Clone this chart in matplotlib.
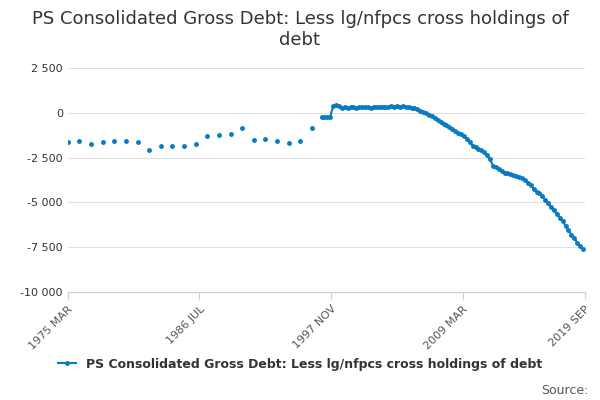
import matplotlib
matplotlib.use("Agg")
import matplotlib.pyplot as plt
import numpy as np

annual_years = list(range(1975, 1997))
annual_values = [-1611,-1555,-1722,-1611,-1555,-1555,-1611,-2055,-1833,-1833,-1833,-1722,
                 -1278,-1222,-1167,-833,-1500,-1444,-1555,-1667,-1555,-833]
q_start = 1997.0
quarterly_values = [
 -250,-250,-250,-220, 380,420,380,280, 330,250,320,300, 280,320,300,310,
 330,290,340,320, 350,330,340,320, 360,330,380,340, 370,330,300,280,
 250,200,120,30, -20,-100,-200,-300, -400,-520,-600,-700, -800,-900,-1000,-1100,
 -1200,-1300,-1450,-1650, -1850,-1900,-2000,-2100, -2200,-2350,-2600,-2950,
 -3050,-3150,-3250,-3350, -3380,-3420,-3480,-3550, -3600,-3650,-3750,-3900,
 -4050,-4250,-4400,-4500, -4650,-4850,-5050,-5250, -5450,-5650,-5850,-6050,
 -6300,-6550,-6800,-7000, -7250,-7450,-7600]
tick_pos = [1975.17, 1986.5, 1997.83, 2009.17, 2019.67]
tick_labels = ["1975 MAR", "1986 JUL", "1997 NOV", "2009 MAR", "2019 SEP"]
series_name = "PS Consolidated Gross Debt: Less lg/nfpcs cross holdings of debt"

color = "#0a7bc1"
qx = q_start + np.arange(len(quarterly_values)) * 0.25
ax_years = np.array(annual_years) + 0.17

fig = plt.figure(figsize=(6, 4), dpi=100)
ax = fig.add_axes([0.113, 0.27, 0.862, 0.56])
ax.plot(ax_years, annual_values, 'o', color=color, ms=2.5, lw=0)
ax.plot(qx, quarterly_values, '-o', color=color, ms=2.5, lw=1.5, label=series_name)
ax.set_xlim(1975.17, 2019.67)
ax.set_ylim(-10000, 2500)
ax.set_yticks([2500, 0, -2500, -5000, -7500, -10000])
ax.set_yticklabels(["2 500", "0", "-2 500", "-5 000", "-7 500", "-10 000"])
ax.set_xticks(tick_pos)
ax.set_xticklabels(tick_labels, rotation=45, ha='right', rotation_mode='anchor')
ax.grid(axis='y', color='#e0e0e0', lw=0.8)
ax.set_axisbelow(True)
for s in ['top', 'right', 'left']:
    ax.spines[s].set_visible(False)
ax.spines['bottom'].set_color('#cccccc')
ax.tick_params(axis='y', length=0, labelsize=8, colors='#333333')
ax.tick_params(axis='x', length=5, color='#cccccc', labelsize=8, colors='#555555')
fig.suptitle("PS Consolidated Gross Debt: Less lg/nfpcs cross holdings of\ndebt",
             y=0.975, fontsize=13, color='#333333')
fig.legend(loc='lower center', bbox_to_anchor=(0.5, 0.045), frameon=False,
           prop={'size': 9, 'weight': 'bold'}, handlelength=1.5, labelcolor='#333333')
fig.text(0.98, 0.015, "Source:", ha='right', fontsize=9, color='#555555')
fig.savefig("out.png")
